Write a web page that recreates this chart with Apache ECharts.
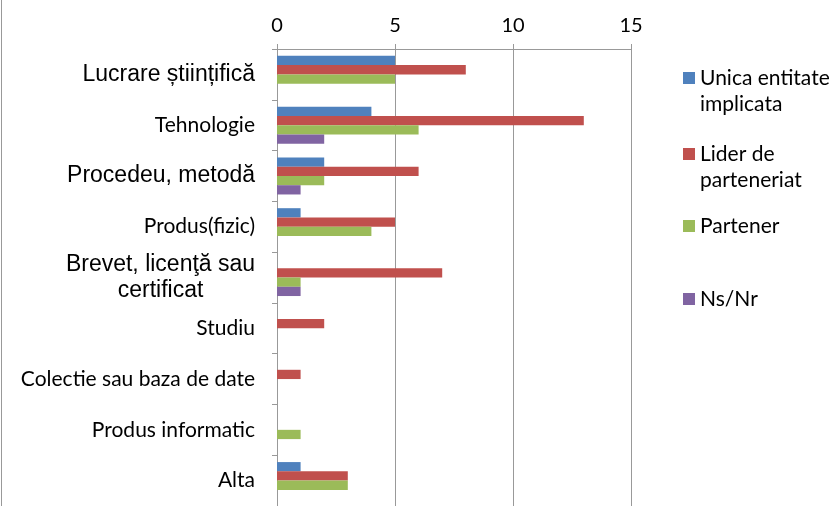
<!DOCTYPE html>
<html>
<head>
<meta charset="utf-8">
<script src="https://cdn.jsdelivr.net/npm/echarts@6/dist/echarts.min.js"></script>
<style>html,body{margin:0;padding:0;background:#fff}#c{width:839px;height:506px}</style>
</head>
<body>
<div id="c"></div>
<script>
const categories = ['Lucrare științifică', 'Tehnologie', 'Procedeu, metodă', 'Produs(fizic)', 'Brevet, licenţă sau certificat', 'Studiu', 'Colectie sau baza de date', 'Produs informatic', 'Alta'];
const seriesNames = ['Unica entitate implicata', 'Lider de parteneriat', 'Partener', 'Ns/Nr'];
const unica = [5, 4, 2, 1, 0, 0, 0, 0, 1];
const lider = [8, 13, 6, 5, 7, 2, 1, 0, 3];
const partener = [5, 6, 2, 4, 1, 0, 0, 1, 3];
const nsnr = [0, 2, 1, 0, 1, 0, 0, 0, 0];
const xTicks = [0, 5, 10, 15];

const colors = ['#4F81BD', '#C0504D', '#9BBB59', '#8064A2'];
const arialCats = ['Lucrare științifică', 'Procedeu, metodă', 'Brevet, licenţă sau certificat'];
const legendText = {
  'Unica entitate implicata': '\nUnica entitate\nimplicata',
  'Lider de parteneriat': '\nLider de\nparteneriat'
};
const calibri = 'Lato, "Open Sans", sans-serif';
const arial = '"Liberation Sans", Arial, sans-serif';
const lineColor = '#999999';

const chart = echarts.init(document.getElementById('c'), null, {renderer: 'canvas'});
const values = [unica, lider, partener, nsnr];
const legendTops = [39, 115, 213, 286];

const option = {
  animation: false,
  backgroundColor: '#fff',
  grid: {left: 277, top: 49, width: 354, height: 463, containLabel: false},
  xAxis: {
    type: 'value', position: 'top', min: xTicks[0], max: xTicks[xTicks.length - 1], interval: 5,
    axisLine: {show: true, lineStyle: {color: lineColor, width: 1}},
    axisTick: {show: true, length: 5, lineStyle: {color: lineColor}},
    axisLabel: {fontFamily: calibri, fontSize: 20, color: '#000', margin: 13},
    splitLine: {show: true, lineStyle: {color: lineColor, width: 1}}
  },
  yAxis: {
    type: 'category', data: categories, inverse: true,
    axisLine: {show: true, lineStyle: {color: lineColor, width: 1}},
    axisTick: {show: true, length: 5, lineStyle: {color: lineColor}},
    axisLabel: {
      margin: 22, color: '#000',
      formatter: function (v) {
        if (v === 'Brevet, licenţă sau certificat') {
          return '{ac|Brevet, licenţă sau}\n{ac|certificat}';
        }
        if (arialCats.indexOf(v) >= 0) return '{a|' + v + '}';
        return '{c|' + v + '}';
      },
      rich: {
        a: {fontFamily: arial, fontSize: 23, color: '#000', lineHeight: 26},
        ac: {fontFamily: arial, fontSize: 23, color: '#000', lineHeight: 26, width: 189, align: 'center'},
        c: {fontFamily: calibri, fontSize: 21, color: '#000', lineHeight: 26}
      }
    },
    splitLine: {show: false}
  },
  legend: seriesNames.map(function (n, i) {
    return {
      data: [n], left: 683, top: legendTops[i], orient: 'vertical', padding: 0,
      itemWidth: 12, itemHeight: 12, icon: 'rect',
      formatter: function (name) { return legendText[name] || name; },
      textStyle: {fontFamily: calibri, fontSize: 21, color: '#000', lineHeight: 26}
    };
  }),
  graphic: [{type: 'line', shape: {x1: 1.5, y1: 0, x2: 1.5, y2: 506}, style: {stroke: '#999', lineWidth: 1}}],
  series: seriesNames.map(function (n, i) {
    return {
      name: n, type: 'bar', data: values[i], barGap: 0, barCategoryGap: '27%',
      itemStyle: {color: colors[i]}
    };
  })
};
chart.setOption(option);
</script>
</body>
</html>
